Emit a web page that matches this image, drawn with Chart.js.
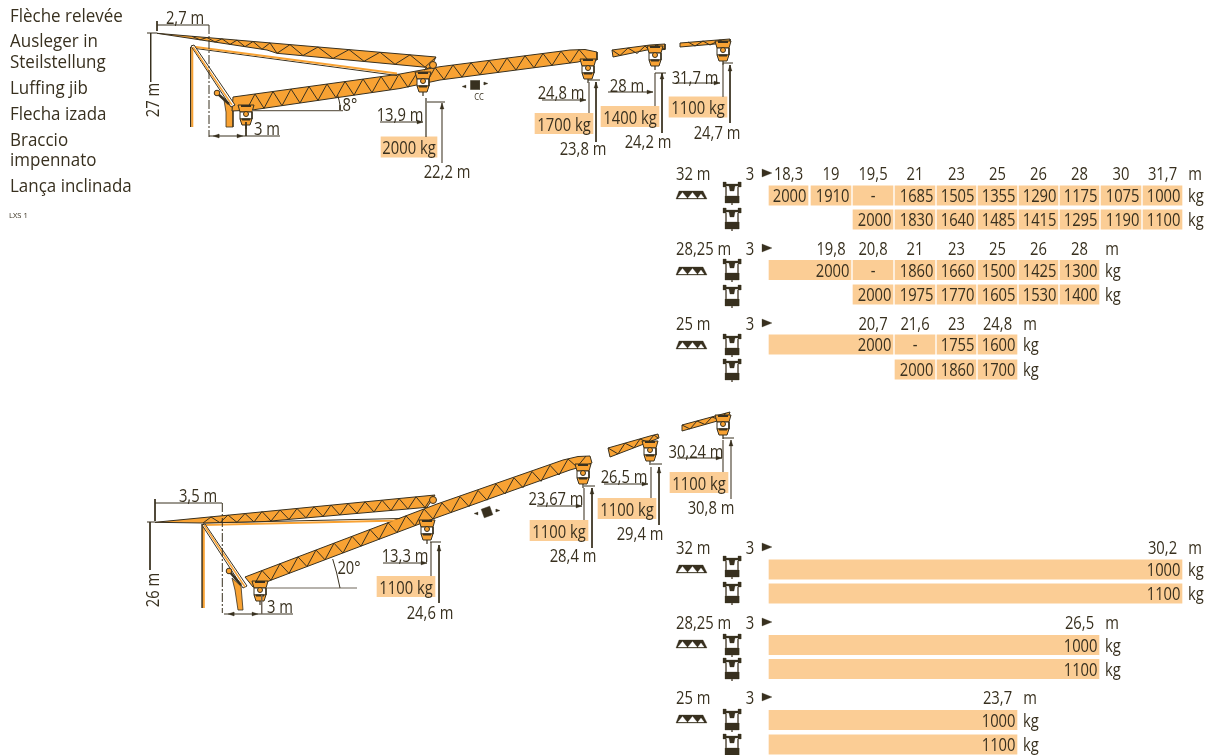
<!DOCTYPE html>
<html><head><meta charset="utf-8">
<style>html,body{margin:0;padding:0;background:#fff}canvas{display:block}</style>
<script src="https://cdn.jsdelivr.net/npm/chart.js@4"></script></head>
<body><canvas id="c" width="1215" height="755" style="width:1215px;height:755px"></canvas>
<script>
// ---------- table values ----------
const radii32   = ["18,3","19","19,5","21","23","25","26","28","30","31,7"];
const loads32a  = ["2000","1910","-","1685","1505","1355","1290","1175","1075","1000"];
const loads32b  = [null,null,"2000","1830","1640","1485","1415","1295","1190","1100"];
const radii28   = [null,"19,8","20,8","21","23","25","26","28"];
const loads28a  = [null,"2000","-","1860","1660","1500","1425","1300"];
const loads28b  = [null,null,"2000","1975","1770","1605","1530","1400"];
const radii25   = [null,null,"20,7","21,6","23","24,8"];
const loads25a  = [null,null,"2000","-","1755","1600"];
const loads25b  = [null,null,null,"2000","1860","1700"];
const radii32u  = [null,null,null,null,null,null,null,null,null,"30,2"];
const loads32u1 = [null,null,null,null,null,null,null,null,null,"1000"];
const loads32u2 = [null,null,null,null,null,null,null,null,null,"1100"];
const radii28u  = [null,null,null,null,null,null,null,"26,5"];
const loads28u1 = [null,null,null,null,null,null,null,"1000"];
const loads28u2 = [null,null,null,null,null,null,null,"1100"];
const radii25u  = [null,null,null,null,null,"23,7"];
const loads25u1 = [null,null,null,null,null,"1000"];
const loads25u2 = [null,null,null,null,null,"1100"];
const jibNames  = ["32 m","28,25 m","25 m","32 m","28,25 m","25 m"];
const legendLines = ["Flèche relevée","Ausleger in","Steilstellung","Luffing jib","Flecha izada","Braccio","impennato","Lança inclinada"];

// ---------- layout ----------
const INK="#38301f", DIM="#6f675a", ORANGE="#F8A233", BOX="#FBCD95";
const colEdges=[[769,808],[811,851],[853,893],[895,935],[937,976],[978,1017],[1019,1058],[1060,1099],[1101,1141],[1143,1182]];
const legendY=[16,41,62,88,114,140,160,186];
const blocks=[
 {radii:radii32, rows:[loads32a,loads32b],  merge:[true,false],head:173,rowY:[195.5,219.5],truss:191,icons:[182,208]},
 {radii:radii28, rows:[loads28a,loads28b],  merge:[true,false],head:248,rowY:[270,294.5],truss:267,icons:[259,285]},
 {radii:radii25, rows:[loads25a,loads25b],  merge:[true,false],head:323,rowY:[344.5,369.5],truss:341,icons:[334,359]},
 {radii:radii32u,rows:[loads32u1,loads32u2],merge:[true,true], head:547,rowY:[569.5,593.5],truss:565,icons:[556,582]},
 {radii:radii28u,rows:[loads28u1,loads28u2],merge:[true,true], head:622,rowY:[645,669],truss:640,icons:[634,658]},
 {radii:radii25u,rows:[loads25u1,loads25u2],merge:[true,true], head:697,rowY:[720,744.5],truss:715,icons:[709,734]}
];
// crane drawing, in picture units
const jibTopOutline=[157,33.3,436,57,431,67,424,70,427,67.4,277,53.3,267,50];
const jibTopWeb=[192,36.3,200,39.8,207,37.5,215,42,222,38.8,230,44.4,237,40.1,245,46.7,253,41.5,262,49.2,270,42.9,277,53.3,290,44.6,303,55.5,318,47,333,58.4,349,49.6,364,61.3,380,52.2,395,64.3,410,54.8,425,67.2,436,57];
const boomTopOutline=[233,97,400,74,440,66.7,570,50,585,49.5,597,52,597,60,585,60,578,62,440,80,400,88.5,252,110,232,111];
const boomTopWeb=[246,111,255,94,264,108.3,273,91.5,282,105.7,291,89,300,103,309,86.5,318,100.4,327,84,336,97.8,345,81.5,354,95.2,363,79,372,92.6,381,76.5,390,90,399,74,408,87.3,417,72.7,426,84,435,67.5,444,79.5,453,65,462,77.1,471,62.7,480,74.8,489,60.4,498,72.5,507,58,516,70,525,55.8,534,67.8,543,53.5,552,65.4,561,51.2,570,63.1,579,49.5,588,60];
const stubTopA=[612,50,650,45,665,44,665,49.5,647,50,613,57];
const stubTopAWeb=[612,50,620,55.5,628,48,637,53.5,645,46,650,51,656,45,665,49];
const stubTopB=[680,43,730,39,730,42,715,44,680,47];
const stubTopBWeb=[688,42,695,46,703,41,710,45,720,40,725,43];
const jibLowOutline=[155,522.3,435,495,430,503,427,507.3,265,521.5,203,523];
const jibLowWeb=[203,523,211,517,220,522.7,228,515,237,522.4,245,513.5,254,522,262,511.5,271,521,280,510,289,519.4,297,508.5,306,517.8,314,506.8,323,516.4,331,505,340,515,348,503.5,357,513.3,365,501.8,374,512,382,500.2,391,510.5,399,498.5,408,509,416,496.8,425,507.5,433,495.2];
const boomLowOutline=[245,577,437,504,563,460,578,456.5,590,456,592,463,584,466,570,470,430,520,253,587];
const boomLowWeb=[253,587,262,570.5,271,580.2,280,563.7,289,573.4,298,556.9,307,566.6,316,550,325,559.8,334,543.2,343,553,352,536.3,361,546.2,370,529.5,379,539.4,388,522.7,397,532.6,406,515.8,415,525.8,424,509,433,519,442,503,451,512.8,460,496.6,469,506.5,478,490.4,487,500.2,496,484,505,494,514,477.8,523,487.7,532,471.5,541,481.4,550,465.3,559,475,568,459,577,467,586,456];
const stubLowA=[608,448,650,436,658,434,659,438,640,445.5,610,457];
const stubLowAWeb=[608,448,618,453.9,625,443.2,634,447.7,640,439,648,442.3,654,435,658,438];
const stubLowB=[682,425,730,412,728,418,682,431];
const stubLowBWeb=[682,425,690,429,697,421,705,424.5,712,417,720,420,726,413];
const hookBlock=[[-8,0,8,0,6,7,-6,7],[-6,7,6,7,6,14,-6,14],[-6,14,6,14,4,20,-4,20]];
const hookPlaces=[[246,105],[423,72],[588,59],[655,46],[723,41],[260,581],[427,520],[583,464],[650,441],[723,415]];
const answerBoxes=[[381,437,147],[535,593,123.5],[601,659,116.5],[669,727,107],[377,435,586.5],[530,588,530.5],[598,656,508.5],[670,728,482.5]];
// [points, colour, width]
const dimLines=[
 [[157,25,209,25],INK,1],[[157,21,157,31],INK,1],[[147,33,157,33],INK,1],[[150.7,33,150.7,82],INK,1],
 [[209,136,280,136],INK,1],[[246,122,246,136],INK,1],[[252,110.7,343,110.7],DIM,1.2],[[337.5,95,339,100,340,105,340,110],INK,1],
 [[380,122,423,122],INK,1],[[426,98,426,137],INK,1.2],[[427,102,445,102],INK,1],[[442,103,442,163],DIM,1.4],
 [[542,100,586,100],INK,1],[[589,82,589,113],DIM,1.4],[[588,80,600,80],INK,1],[[596,82,596,142],INK,1],
 [[608,92,653,92],INK,1],[[655,73,655,106],DIM,1.4],[[655,73,666,73],INK,1],[[662,73,662,133],INK,1],
 [[676,83,720,83],INK,1],[[723,63,723,97],DIM,1.4],[[723,63,733,63],INK,1],[[730,65,730,123],INK,1],
 [[155,503,222,503],INK,1],[[155,499,155,521],INK,1],[[147,522,155,522],INK,1],[[150,522,150,570],INK,1],
 [[224,614,293,614],INK,1],[[261.7,595,261.7,614],DIM,1],[[267,588,357,588],DIM,1.2],[[332.7,559,336.7,573,340,588],INK,1],
 [[383,563,427,563],INK,1],[[431,542,431,576],DIM,1.4],[[430,542,441,542],INK,1],[[439,545,439,603],INK,1],
 [[537,506,582,506],INK,1],[[584,488,584,520],DIM,1.4],[[584,486,595,486],INK,1],[[592,488,592,548],INK,1],
 [[604,484,648,484],INK,1],[[651,467,651,498],DIM,1.4],[[651,464,662,464],INK,1],[[659,467,659,525],INK,1],
 [[677,458,722,458],INK,1],[[723,440,723,472],DIM,1.4],[[723,438,734,438],INK,1],[[731,440,731,499],DIM,1.4]
];
const dashedLines=[[209,25,209,137],[222.3,503,222.3,613]];
const arrowTips=[[213,136,-1,0],[243,136,1,0],[423,122,1,0],[586,100,1,0],[653,92,1,0],[720,83,1,0],[442,103,0,-1],[596,82,0,-1],[662,73,0,-1],[730,65,0,-1],
 [228,614,-1,0],[258,614,1,0],[427,563,1,0],[582,506,1,0],[648,484,1,0],[722,458,1,0],[439,545,0,-1],[592,488,0,-1],[659,467,0,-1],[731,440,0,-1]];
// [text,x,y,align,condense,size,rotation]
const dimLabels=[
 ["2,7 m",185,17],["27 m",152,100,"center",.82,18,-90],["3 m",267,128],["8°",350,104],["13,9 m",400,114],["2000 kg",409,147],["22,2 m",447,171],
 ["24,8 m",561,92],["1700 kg",564,124],["23,8 m",583,148],["28 m",627,85],["1400 kg",630,117],["24,2 m",648,141],["31,7 m",695,77],["1100 kg",698,107],["24,7 m",717,132],
 ["3,5 m",198,495],["26 m",152,590,"center",.82,18,-90],["3 m",280,606],["20°",349,567],["13,3 m",405,555],["1100 kg",406,587],["24,6 m",430,612],
 ["23,67 m",556,498],["1100 kg",559,531],["28,4 m",573,555],["26,5 m",624,476],["1100 kg",627,509],["29,4 m",640,533],["30,24 m",696,451],["1100 kg",699,483],["30,8 m",711,507],
 ["CC",479,96,"center",.85,9]
];

// ---------- datasets ----------
const datasets=[];
function toPts(f,dx=0,dy=0){const o=[];for(let i=0;i<f.length;i+=2)o.push({x:f[i]+dx,y:f[i+1]+dy});return o;}
function push(ds){ds.order=100000-datasets.length;datasets.push(ds);}
function line(f,color,w,dash){push({type:'line',data:toPts(f),borderColor:color,borderWidth:w,borderDash:dash||[],fill:false,pointRadius:0,tension:0,clip:false,borderCapStyle:'butt'});}
function shape(f,fillC,stroke,w,dx=0,dy=0){const p=toPts(f,dx,dy);p.push(p[0]);push({type:'line',data:p,borderColor:stroke||fillC,borderWidth:w===undefined?0.8:w,backgroundColor:fillC,fill:'shape',pointRadius:0,tension:0,clip:false,borderJoinStyle:'miter'});}
function dot(x,y,r,bg,st){push({type:'line',data:[{x,y}],showLine:false,pointRadius:r,pointBackgroundColor:bg,pointBorderColor:st,pointBorderWidth:1,clip:false});}
function truss(o,w){shape(o,ORANGE,INK,1);line(w,INK,1);}

// load cells as floating horizontal bars
function cell(a,b,y){push({type:'bar',indexAxis:'y',data:[{x:[a,b],y}],backgroundColor:BOX,borderWidth:0,barThickness:19.5,grouped:false});}
answerBoxes.forEach(b=>push({type:'bar',indexAxis:'y',data:[{x:[b[0],b[1]],y:b[2]}],backgroundColor:BOX,borderWidth:0,barThickness:20.5,grouped:false}));
const textItems=[];
function text(t,x,y,align,cond,size,rot){textItems.push([t,x,y,align||'center',cond||.82,size||18,rot||0]);}
legendLines.forEach((t,i)=>text(t,10,legendY[i],'left',.97,17.5));
text("LXS 1",9,214,'left',.95,8);
blocks.forEach((b,bi)=>{
  const last=b.radii.length-1, unitX=colEdges[last][1]+13;
  text(jibNames[bi],676,b.head,'left');
  text("3",750,b.head);
  b.radii.forEach((r,i)=>{if(r)text(r,(colEdges[i][0]+colEdges[i][1])/2,b.head);});
  text("m",unitX,b.head);
  b.rows.forEach((row,ri)=>{
    const y=b.rowY[ri]; let started=false;
    row.forEach((v,i)=>{
      if(v===null)return;
      const a=(!started&&b.merge[ri])?colEdges[0][0]:colEdges[i][0], e=colEdges[i][1];
      started=true;
      cell(a,e,y);
      if(v==="-")text(v,(colEdges[i][0]+e)/2,y);else text(v,e-1.5,y,'right');
    });
    text("kg",unitX+1,y);
  });
});

// crane, upper
line([190.7,47,190.7,127],INK,1);line([192.3,47,192.3,127],ORANGE,2);
shape([224,100,233,108,233,127,226,127,226,112],ORANGE,INK,.8);
truss(boomTopOutline,boomTopWeb);
line([192,48,397,75.5],INK,1);line([192,46.5,397,73.5],ORANGE,2);
truss(jibTopOutline,jibTopWeb);
truss(stubTopA,stubTopAWeb);truss(stubTopB,stubTopBWeb);
shape([191,46,194,45,235,105,231,107],'#fff',INK,1);line([193,47,232,105],ORANGE,1.5);
line([217,93,229,104],INK,2.5);dot(217,93,2.8,ORANGE,INK);dot(433,65,3.5,ORANGE,INK);

// crane, lower
line([202.2,524,202.2,608],INK,1);line([203.8,524,203.8,608],ORANGE,2);
shape([232,578,241,586,243,610,238,610,235,590],ORANGE,INK,.8);
truss(boomLowOutline,boomLowWeb);
line([203,523,400,518.5],INK,1);line([203,525,400,520.5],ORANGE,2);
truss(jibLowOutline,jibLowWeb);
truss(stubLowA,stubLowAWeb);truss(stubLowB,stubLowBWeb);
shape([202,525,205,524,247,586,243,588],'#fff',INK,1);line([204,525,245,587],ORANGE,1.5);
line([229,571,241,585],INK,2.5);dot(229,571,2.8,ORANGE,INK);dot(433,500,3.5,ORANGE,INK);

// hook blocks
hookPlaces.forEach(([x,y])=>{
  shape(hookBlock[0],ORANGE,INK,1,x,y);
  shape(hookBlock[1],'#fff',INK,1,x,y);
  shape(hookBlock[2],ORANGE,INK,1,x,y);
  line([x-5,y+1,x+5,y+1],INK,2);
  line([x-4,y+14.5,x+4,y+14.5],INK,2);
  dot(x,y+9,2.5,ORANGE,INK);
  line([x,y+20,x,y+24],INK,1.2);
});

// dimensions
dimLines.forEach(d=>line(d[0],d[1],d[2]));
dashedLines.forEach(d=>line(d,INK,1,[9,2,2,2]));
arrowTips.forEach(([x,y,ux,uy])=>{
  const bx=x-ux*6, by=y-uy*6;
  shape([x,y,bx-uy*2,by+ux*2,bx+uy*2,by-ux*2],INK,INK,.3);
});
dimLabels.forEach(l=>text(l[0],l[1],l[2],l[3],l[4],l[5],l[6]));

// counterweight marks
[[475,85,0],[487,512,-.35]].forEach(([x,y,t])=>{
  const c=Math.cos(t)*4.5,s=Math.sin(t)*4.5;
  shape([x-c+s,y-s-c,x+c+s,y+s-c,x+c-s,y+s+c,x-c-s,y-s+c],INK,INK,.5);
  shape([x-9,y,x-13,y+1.5,x-9,y+3],INK,INK,.3);
  shape([x+9,y,x+13,y-1.5,x+9,y-3],INK,INK,.3);
});

// table pictograms
const trussIcon=[0,8,3,0,27,0,31,8];
const trussHoles=[[2,7,6.5,1.5,11,7],[12,7,16.5,1.5,21,7],[22,7,25,3,28,7]];
const winch=[[-9,0,-6,0,-6,2,6,2,6,0,9,0,9,5,6,5,6,4,-6,4,-6,5,-9,5],[-7,14,7,14,7,21,-7,21],[-3,4,3,4,2,9,-2,9]];
blocks.forEach(b=>{
  shape([762,b.head-4,772,b.head,762,b.head+4],INK,INK,.3);
  shape(trussIcon,INK,INK,.3,676,b.truss);
  trussHoles.forEach(h=>shape(h,'#fff','#fff',.3,676,b.truss));
  b.icons.forEach(y=>{
    const x=732;
    winch.forEach(s=>shape(s,INK,INK,.3,x,y));
    line([x-6,y+5,x-6,y+14],DIM,1);line([x+6,y+5,x+6,y+14],DIM,1);
    line([x,y+21,x,y+23],DIM,1);
  });
});

// text through the scales
const textPlugin={id:'textPlugin',afterDatasetsDraw(chart){
  const {ctx,scales:{x,y}}=chart;
  ctx.save();ctx.fillStyle=INK;ctx.textBaseline='middle';
  textItems.forEach(([t,px,py,al,cond,size,rot])=>{
    ctx.save();
    ctx.translate(x.getPixelForValue(px),y.getPixelForValue(py));
    if(rot)ctx.rotate(rot*Math.PI/180);
    ctx.translate(0,1.5);
    ctx.scale(cond,1);
    ctx.font=size+'px "Open Sans"';ctx.textAlign=al;
    ctx.fillText(t,0,0);
    ctx.restore();
  });
  ctx.restore();
}};

new Chart(document.getElementById('c'),{
  data:{datasets},
  plugins:[textPlugin],
  options:{responsive:false,animation:false,devicePixelRatio:1,
    layout:{padding:0,autoPadding:false},
    plugins:{legend:{display:false},tooltip:{enabled:false},title:{display:false}},
    events:[],
    scales:{
      x:{type:'linear',display:false,min:0,max:1215,offset:false},
      y:{type:'linear',display:false,min:0,max:755,reverse:true,offset:false}
    }}
});
</script></body></html>
